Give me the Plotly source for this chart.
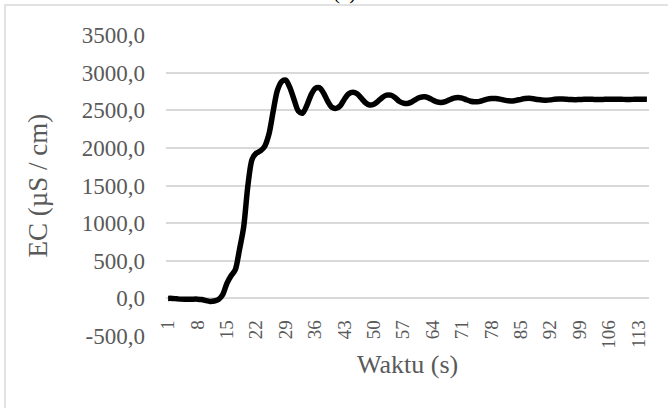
import plotly.graph_objects as go

# Time in seconds (one category per second)
waktu = list(range(1, 116))

# Electrical conductivity readings (µS/cm)
ec = [
    0, 0, -5, -10, -12, -12, -10, -10, -15, -30,
    -40, -35, -15, 50, 200, 300, 380, 650, 950, 1500,
    1850, 1930, 1960, 2020, 2180, 2480, 2760, 2880, 2900, 2800,
    2640, 2490, 2460, 2560, 2700, 2790, 2800, 2730, 2620, 2540,
    2525, 2560, 2650, 2720, 2740, 2720, 2660, 2600, 2570, 2580,
    2620, 2670, 2700, 2700, 2670, 2620, 2595, 2590, 2610, 2645,
    2670, 2678, 2665, 2635, 2610, 2603, 2615, 2640, 2662, 2670,
    2662, 2640, 2620, 2612, 2615, 2630, 2648, 2656, 2656, 2648,
    2635, 2625, 2624, 2632, 2645, 2655, 2658, 2652, 2642, 2635,
    2634, 2638, 2645, 2648, 2648, 2645, 2642, 2641, 2643, 2645,
    2646, 2645, 2644, 2644, 2645, 2646, 2646, 2645, 2645, 2644,
    2644, 2645, 2645, 2645, 2645,
]

x_tick_vals = waktu[::7]
y_tick_vals = [-500, 0, 500, 1000, 1500, 2000, 2500, 3000, 3500]
y_tick_labels = ["-500,0", "0,0", "500,0", "1000,0", "1500,0",
                 "2000,0", "2500,0", "3000,0", "3500,0"]

SERIF = "Liberation Serif, Times New Roman, serif"
GREY_TXT = "#595959"
GRID = "#d9d9d9"

fig = go.Figure()
fig.add_trace(go.Scatter(
    x=waktu, y=ec, mode="lines",
    line=dict(color="black", width=5.5, shape="spline", smoothing=0.8),
    hoverinfo="skip", showlegend=False,
))

fig.update_layout(
    width=668, height=408,
    margin=dict(l=166, r=19, t=35, b=72),
    paper_bgcolor="white", plot_bgcolor="white",
    font=dict(family=SERIF, color=GREY_TXT),
    xaxis=dict(
        range=[0.5, 115.5], tickmode="array", tickvals=x_tick_vals,
        ticktext=[str(v) for v in x_tick_vals],
        tickangle=-90, tickfont=dict(size=19, color=GREY_TXT, family=SERIF),
        showgrid=False, zeroline=False, showline=False, ticks="",
        anchor="free", position=0.125, ticklabelstandoff=17,
    ),
    yaxis=dict(
        range=[-500, 3500], tickmode="array", tickvals=y_tick_vals,
        ticktext=y_tick_labels, tickfont=dict(size=23, color=GREY_TXT, family=SERIF),
        showgrid=True, gridcolor=GRID, gridwidth=1.5,
        zeroline=True, zerolinecolor=GRID, zerolinewidth=1.5,
        showline=False, ticks="", ticklabelstandoff=20,
    ),
    shapes=[dict(
        type="rect", xref="paper", yref="paper",
        x0=-0.3333, x1=1.05, y0=-0.26, y1=1.0997,
        line=dict(color=GRID, width=1.5), fillcolor="rgba(0,0,0,0)", layer="below",
    )],
    annotations=[
        dict(text="(a)", xref="paper", yref="paper", x=0.37, y=1.096,
             xanchor="center", yanchor="bottom", showarrow=False,
             font=dict(size=21, color="black", family=SERIF)),
        dict(text="Waktu (s)", xref="paper", yref="paper", x=0.5, y=-0.095,
             xanchor="center", yanchor="middle", showarrow=False,
             font=dict(size=26, color=GREY_TXT, family=SERIF)),
        dict(text="EC (µS / cm)", xref="paper", yref="paper", x=-0.267, y=0.5,
             xanchor="center", yanchor="middle", textangle=-90, showarrow=False,
             font=dict(size=27, color=GREY_TXT, family=SERIF)),
    ],
)

fig.write_html("out.html")
